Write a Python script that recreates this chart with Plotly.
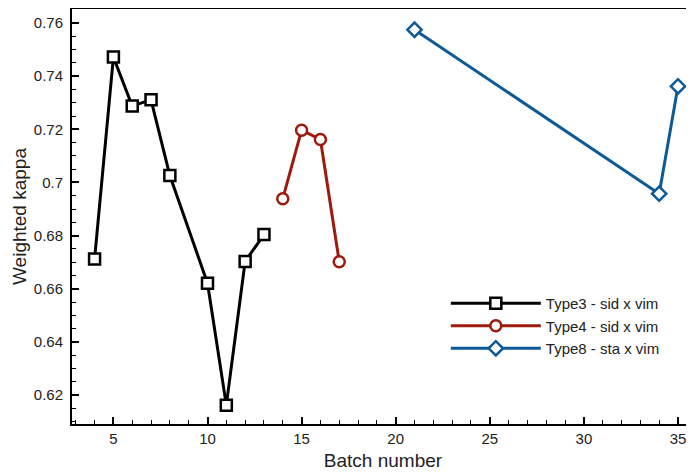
import plotly.graph_objects as go

type3_x = [4, 5, 6, 7, 8, 10, 11, 12, 13]
type3_y = [0.6712, 0.7472, 0.7288, 0.7311, 0.7026, 0.6621, 0.6162, 0.6703, 0.6804]
type4_x = [14, 15, 16, 17]
type4_y = [0.6939, 0.7197, 0.7162, 0.6702]
type8_x = [21, 34, 35]
type8_y = [0.7575, 0.6958, 0.7362]

names = ["Type3 - sid x vim", "Type4 - sid x vim", "Type8 - sta x vim"]
colors = ["#000000", "#9e1a0c", "#0c5a98"]
symbols = ["square", "circle", "diamond"]

fig = go.Figure()
for xs, ys, nm, c, s in zip([type3_x, type4_x, type8_x], [type3_y, type4_y, type8_y], names, colors, symbols):
    fig.add_trace(go.Scatter(
        x=xs, y=ys, name=nm, mode="lines+markers",
        line=dict(color=c, width=3),
        marker=dict(symbol=s, size=11, color="white",
                    line=dict(color=c, width=2.5)),
    ))

font = "Liberation Sans, Arial, Helvetica, sans-serif"
fig.update_layout(
    width=694, height=475,
    margin=dict(l=64, r=8, t=1, b=59, autoexpand=False),
    paper_bgcolor="white", plot_bgcolor="white",
    font=dict(family=font, size=15, color="#222"),
    showlegend=True,
    legend=dict(x=0.601, y=0.33, xanchor="left", yanchor="top",
                bgcolor="rgba(255,255,255,0)", itemwidth=90,
                font=dict(size=15, color="#222"), tracegroupgap=0),
    xaxis=dict(range=[2.8, 35.85], tickvals=[5, 10, 15, 20, 25, 30, 35],
               ticks="inside", ticklen=7, tickwidth=2, tickcolor="black",
               minor=dict(dtick=1, tick0=0, ticks="inside", ticklen=4, tickwidth=1, tickcolor="black"),
               showline=True, linecolor="black", linewidth=2, mirror=True,
               showgrid=False, zeroline=False, automargin=False,
               title=dict(text="Batch number", font=dict(size=19, color="#222"), standoff=8),
               tickfont=dict(size=15)),
    yaxis=dict(range=[0.6091, 0.7653], tickvals=[0.62, 0.64, 0.66, 0.68, 0.70, 0.72, 0.74, 0.76],
               ticktext=["0.62", "0.64", "0.66", "0.68", "0.7", "0.72", "0.74", "0.76"],
               ticks="inside", ticklen=7, tickwidth=2, tickcolor="black",
               minor=dict(dtick=0.005, tick0=0.6, ticks="inside", ticklen=4, tickwidth=1, tickcolor="black"),
               showline=True, linecolor="black", linewidth=2,
               showgrid=False, zeroline=False, automargin=False,
               ticklabelstandoff=4,
               title=dict(text="Weighted kappa", font=dict(size=19, color="#222"), standoff=2),
               tickfont=dict(size=15)),
)
fig.write_html("out.html")
